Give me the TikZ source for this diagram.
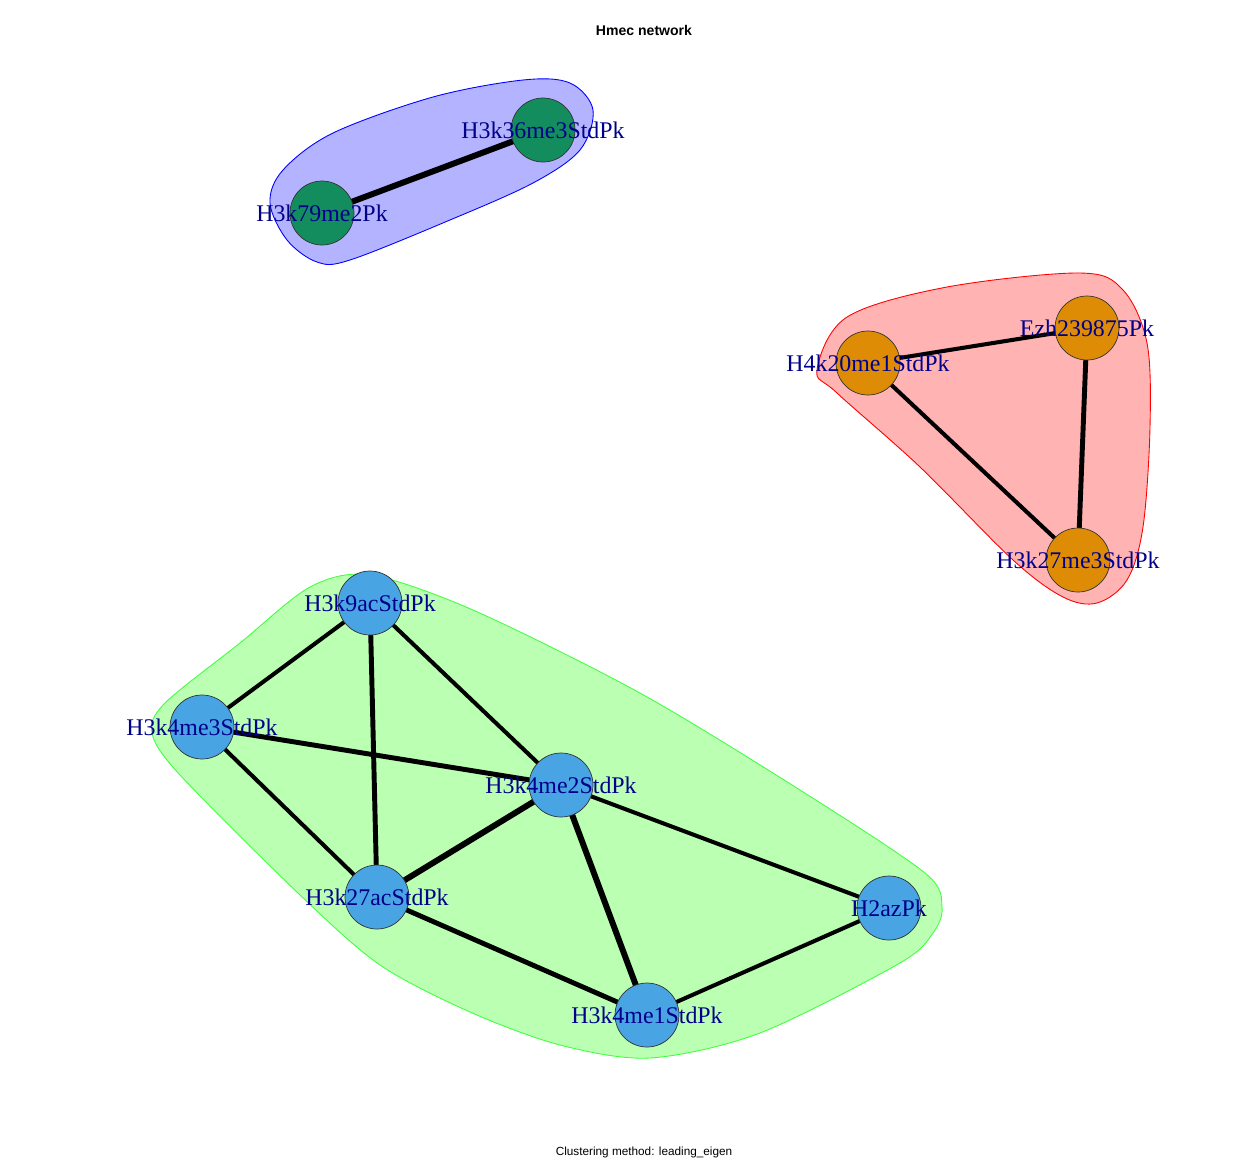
\documentclass[tikz,border=0pt]{standalone}
\usepackage{fontspec}
\newfontfamily\lblfont{Liberation Serif}
\newfontfamily\ttlfont{Liberation Sans}
\definecolor{vgreen}{HTML}{138D5E}
\definecolor{vorange}{HTML}{DE8C06}
\definecolor{vblue}{HTML}{48A4E2}
\definecolor{lblcol}{HTML}{00008B}
\definecolor{hullblue}{HTML}{B3B3FF}
\definecolor{hullred}{HTML}{FFB3B3}
\definecolor{hullgreen}{HTML}{BBFFB3}
\begin{document}
\begin{tikzpicture}[x=0.02cm, y=-0.02cm,
    vtx/.style = {circle, draw=black!80, line width=0.4pt, minimum size=1.28cm, inner sep=0pt},
    lbl/.style = {text=lblcol, inner sep=0pt, font=\lblfont\fontsize{13.6}{16}\selectfont},
    thin edge/.style = {line width=2.3pt},
    mid edge/.style = {line width=2.8pt},
    thick edge/.style = {line width=3.4pt}]
    \useasboundingbox (0,0) rectangle (1260,1160);
    % groups
    \draw[blue, line width=0.5pt, fill=hullblue] plot[smooth cycle, tension=0.55] coordinates {
        (270,203) (283,170) (333,133) (433,97) (523,80) (570,83) (593,110)
        (580,150) (533,183) (450,220) (350,260) (317,262) (287,240)};
    \draw[red, line width=0.5pt, fill=hullred] plot[smooth cycle, tension=0.55] coordinates {
        (817,370) (847,317) (947,287) (1080,273) (1123,290) (1147,343) (1150,427)
        (1143,527) (1127,580) (1097,603) (1063,597) (1013,560) (920,467) (837,393)};
    \draw[green!75!white, line width=0.5pt, fill=hullgreen] plot[smooth cycle, tension=0.5] coordinates {
        (370,575) (473,610) (640,693) (800,790) (925,873) (942,907)
        (933,933) (900,963) (760,1033) (650,1058) (560,1045) (470,1012)
        (380,965) (300,895) (180,775) (152,733) (165,703) (240,643) (310,587)};
    % vertex positions
    \coordinate (k36) at (543,130);
    \coordinate (k79) at (322,213);
    \coordinate (ezh) at (1087,328);
    \coordinate (k20) at (868,363);
    \coordinate (k27m) at (1078,560);
    \coordinate (k9) at (370,603);
    \coordinate (k4m3) at (202,727);
    \coordinate (k4m2) at (561,785);
    \coordinate (k27a) at (377,897);
    \coordinate (h2az) at (889,908);
    \coordinate (k4m1) at (647,1015);
    % edges
    \draw[thick edge] (k36) -- (k79);
    \draw[thin edge] (ezh) -- (k20);
    \draw[mid edge] (ezh) -- (k27m);
    \draw[thin edge] (k20) -- (k27m);
    \draw[thin edge] (k9) -- (k4m3);
    \draw[mid edge] (k9) -- (k27a);
    \draw[thin edge] (k9) -- (k4m2);
    \draw[mid edge] (k4m3) -- (k4m2);
    \draw[thin edge] (k4m3) -- (k27a);
    \draw[thick edge] (k4m2) -- (k27a);
    \draw[thick edge] (k4m2) -- (k4m1);
    \draw[thin edge] (k4m2) -- (h2az);
    \draw[mid edge] (k27a) -- (k4m1);
    \draw[thin edge] (h2az) -- (k4m1);
    % vertices
    \node[vtx, fill=vgreen] (k36v) at (k36) {};
    \node[vtx, fill=vgreen] (k79v) at (k79) {};
    \node[vtx, fill=vorange] (ezhv) at (ezh) {};
    \node[vtx, fill=vorange] (k20v) at (k20) {};
    \node[vtx, fill=vorange] (k27mv) at (k27m) {};
    \node[vtx, fill=vblue] (k9v) at (k9) {};
    \node[vtx, fill=vblue] (k4m3v) at (k4m3) {};
    \node[vtx, fill=vblue] (k4m2v) at (k4m2) {};
    \node[vtx, fill=vblue] (k27av) at (k27a) {};
    \node[vtx, fill=vblue] (h2azv) at (h2az) {};
    \node[vtx, fill=vblue] (k4m1v) at (k4m1) {};
    % labels
    \node[lbl] (k36l) at (k36) {H3k36me3StdPk};
    \node[lbl] (k79l) at (k79) {H3k79me2Pk};
    \node[lbl] (ezhl) at (ezh) {Ezh239875Pk};
    \node[lbl] (k20l) at (k20) {H4k20me1StdPk};
    \node[lbl] (k27ml) at (k27m) {H3k27me3StdPk};
    \node[lbl] (k9l) at (k9) {H3k9acStdPk};
    \node[lbl] (k4m3l) at (k4m3) {H3k4me3StdPk};
    \node[lbl] (k4m2l) at (k4m2) {H3k4me2StdPk};
    \node[lbl] (k27al) at (k27a) {H3k27acStdPk};
    \node[lbl] (h2azl) at (h2az) {H2azPk};
    \node[lbl] (k4m1l) at (k4m1) {H3k4me1StdPk};
    % title and method
    \node[font=\ttlfont\bfseries\fontsize{8}{10}\selectfont] (title) at (644,30) {Hmec network};
    \node[font=\ttlfont\fontsize{6.7}{8}\selectfont] (method) at (644,1152) {Clustering method: leading\_eigen};
\end{tikzpicture}
\end{document}
